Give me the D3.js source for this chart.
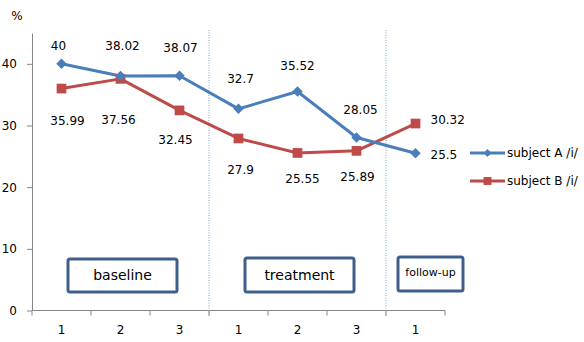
<!DOCTYPE html>
<html>
<head>
<meta charset="utf-8">
<script src="https://cdn.jsdelivr.net/npm/d3@7"></script>
<style>
  html, body { margin: 0; padding: 0; background: #fff; }
  svg { display: block; font-family: "DejaVu Sans", Verdana, sans-serif; }
</style>
</head>
<body>
<svg id="chart" width="584" height="342"></svg>
<script>
// Session numbers along the x axis (three phases)
const sessions = ["1", "2", "3", "1", "2", "3", "1"];
const subjectA = [40, 38.02, 38.07, 32.7, 35.52, 28.05, 25.5];
const subjectB = [35.99, 37.56, 32.45, 27.9, 25.55, 25.89, 30.32];
const seriesNames = ["subject A /i/", "subject B /i/"];
const yTicks = [0, 10, 20, 30, 40];
// Phase names and the session index range each one covers
const phases = ["baseline", "treatment", "follow-up"];
const phaseStart = [0, 3, 6];
const phaseEnd = [2, 5, 6];

// Label placement relative to each point [dx, dy, anchor]
const labelPosA = [[-3, -18, "middle"], [2, -30, "middle"], [1, -28, "middle"], [2, -30, "middle"],
                   [0, -26, "middle"], [4, -28, "middle"], [15, 2, "start"]];
const labelPosB = [[6, 32, "middle"], [-2, 41, "middle"], [-4, 29, "middle"], [2, 31, "middle"],
                   [5, 26, "middle"], [1, 26, "middle"], [15, -4, "start"]];

const svg = d3.select("#chart");
const plotLeft = 32, plotRight = 445, plotTop = 33, plotBottom = 310.5;

const x = d3.scaleBand().domain(d3.range(sessions.length)).range([plotLeft, plotRight]);
const y = d3.scaleLinear().domain([0, 45]).range([plotBottom, plotTop]);
const cx = i => x(i) + x.bandwidth() / 2;

const axisColor = "#868686";
const colorA = "#4a7ebb", colorB = "#be4b48";

// Phase separators
[phaseEnd[0], phaseEnd[1]].forEach(i => {
  const xx = x(i) + x.bandwidth();
  svg.append("line")
    .attr("x1", xx).attr("x2", xx).attr("y1", 30).attr("y2", 316)
    .attr("stroke", "#7fa6d6").attr("stroke-width", 1)
    .attr("stroke-dasharray", "1,1.5");
});

// Y axis
const yAxis = d3.axisLeft(y).tickValues(yTicks).tickSize(5).tickPadding(6).tickSizeOuter(0);
const gy = svg.append("g").attr("transform", `translate(${plotLeft},0)`).call(yAxis);
gy.select(".domain").attr("stroke", axisColor);
gy.selectAll(".tick line").attr("stroke", axisColor);
gy.selectAll(".tick text").attr("font-size", 12).attr("fill", "#000")
  .attr("font-family", "DejaVu Sans, sans-serif").attr("dx", -4);

svg.append("text").attr("x", 17).attr("y", 20).attr("text-anchor", "middle")
  .attr("font-size", 12).text("%");

// X axis with ticks at category boundaries
const gx = svg.append("g").attr("transform", `translate(0,${plotBottom})`);
gx.append("line").attr("x1", plotLeft).attr("x2", plotRight).attr("stroke", axisColor);
d3.range(sessions.length + 1).forEach(i => {
  const xx = plotLeft + i * x.bandwidth();
  gx.append("line").attr("x1", xx).attr("x2", xx).attr("y1", 0).attr("y2", 5).attr("stroke", axisColor);
});
gx.selectAll("text.cat").data(sessions).join("text")
  .attr("class", "cat")
  .attr("x", (d, i) => cx(i)).attr("y", 23)
  .attr("text-anchor", "middle").attr("font-size", 12).text(d => d);

// Phase boxes
const boxGeom = [
  { y0: 259, y1: 292, fs: 14, ty: 280 },
  { y0: 258, y1: 292, fs: 14, ty: 280 },
  { y0: 257, y1: 291, fs: 11, ty: 276 }
];
const boxX = [[68, 177], [245, 354], [398, 463]];
phases.forEach((p, k) => {
  const g = boxGeom[k];
  svg.append("rect")
    .attr("x", boxX[k][0]).attr("y", g.y0)
    .attr("width", boxX[k][1] - boxX[k][0]).attr("height", g.y1 - g.y0)
    .attr("rx", 2).attr("fill", "#fff").attr("stroke", "#3f5f8a").attr("stroke-width", 3);
  svg.append("text")
    .attr("x", (boxX[k][0] + boxX[k][1]) / 2).attr("y", g.ty)
    .attr("text-anchor", "middle").attr("font-size", g.fs).text(p);
});

// Lines
const line = d3.line().x((d, i) => cx(i)).y(d => y(d));
svg.append("path").datum(subjectB).attr("d", line)
  .attr("fill", "none").attr("stroke", colorB).attr("stroke-width", 3).attr("stroke-linejoin", "round");
svg.append("path").datum(subjectA).attr("d", line)
  .attr("fill", "none").attr("stroke", colorA).attr("stroke-width", 3).attr("stroke-linejoin", "round");

// Markers
const diamond = d3.symbol().type(d3.symbolDiamond2).size(70);
const square = d3.symbol().type(d3.symbolSquare2).size(120);
svg.selectAll("path.mB").data(subjectB).join("path").attr("class", "mB")
  .attr("d", square).attr("transform", (d, i) => `translate(${cx(i)},${y(d)})`)
  .attr("fill", colorB);
svg.selectAll("path.mA").data(subjectA).join("path").attr("class", "mA")
  .attr("d", diamond).attr("transform", (d, i) => `translate(${cx(i)},${y(d)})`)
  .attr("fill", colorA);

// Value labels
function labels(data, pos, cls) {
  svg.selectAll("text." + cls).data(data).join("text").attr("class", cls)
    .attr("x", (d, i) => cx(i) + pos[i][0])
    .attr("y", (d, i) => y(d) + pos[i][1])
    .attr("dy", "0.35em")
    .attr("text-anchor", (d, i) => pos[i][2])
    .attr("font-size", 12).text(d => d);
}
labels(subjectA, labelPosA, "lA");
labels(subjectB, labelPosB, "lB");

// Legend
const legend = svg.append("g");
[[colorA, 153], [colorB, 181]].forEach(([c, ly], k) => {
  legend.append("line").attr("x1", 470).attr("x2", 505).attr("y1", ly).attr("y2", ly)
    .attr("stroke", c).attr("stroke-width", 3);
  const sym = k === 0
    ? d3.symbol().type(d3.symbolDiamond2).size(40)
    : d3.symbol().type(d3.symbolSquare2).size(80);
  legend.append("path").attr("d", sym())
    .attr("transform", `translate(487.5,${ly})`).attr("fill", c);
  legend.append("text").attr("x", 507).attr("y", ly).attr("dy", "0.35em")
    .attr("font-size", 12).text(seriesNames[k]);
});
</script>
</body>
</html>
